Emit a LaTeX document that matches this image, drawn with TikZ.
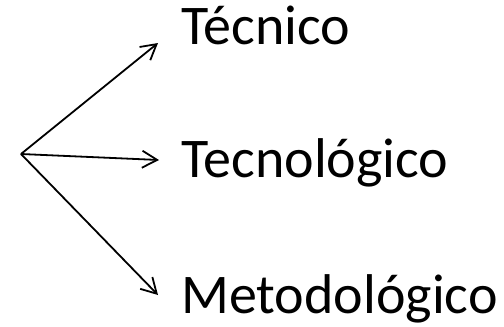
\documentclass[tikz,border=0pt]{standalone}
\usepackage{fontspec}
\setmainfont{Carlito}
\usetikzlibrary{arrows.meta}
\tikzset{
  lbl/.style={anchor=base west, inner sep=0pt, font=\fontsize{56}{64}\selectfont},
  conn/.style={line width=1.8pt, -{Straight Barb[length=15pt,width=17pt,line width=1.8pt]}}
}
\begin{document}
\begin{tikzpicture}[x=1pt,y=-1pt]
\useasboundingbox (0,0) rectangle (504,327);
\coordinate (o) at (21,154);
\coordinate (t1) at (158,43);
\coordinate (t2) at (159,160);
\coordinate (t3) at (158,295);
\node[lbl] (a) at (181,44) {Técnico};
\node[lbl] (b) at (181,177) {Tecnológico};
\node[lbl] (c) at (181,313) {Metodológico};
\draw[conn] (o) -- (t1);
\draw[conn] (o) -- (t2);
\draw[conn] (o) -- (t3);
\end{tikzpicture}
\end{document}
